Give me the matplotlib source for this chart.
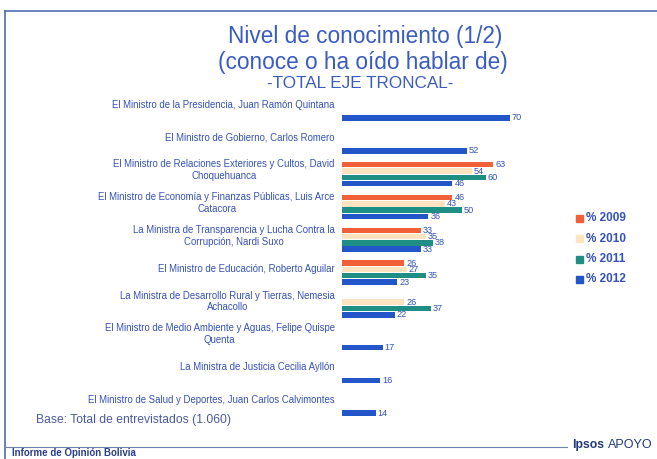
import numpy as np
import matplotlib.pyplot as plt
from matplotlib.patches import Rectangle
from matplotlib.lines import Line2D

# data
ministros = [
    "El Ministro de la Presidencia, Juan Ramón Quintana",
    "El Ministro de Gobierno, Carlos Romero",
    "El Ministro de Relaciones Exteriores y Cultos, David\nChoquehuanca",
    "El Ministro de Economía y Finanzas Públicas, Luis Arce\nCatacora",
    "La Ministra de Transparencia y Lucha Contra la\nCorrupción, Nardi Suxo",
    "El Ministro de Educación, Roberto Aguilar",
    "La Ministra de Desarrollo Rural y Tierras, Nemesia\nAchacollo",
    "El Ministro de Medio Ambiente y Aguas, Felipe Quispe\nQuenta",
    "La Ministra de Justicia Cecilia Ayllón",
    "El Ministro de Salud y Deportes, Juan Carlos Calvimontes",
]
nan = np.nan
p2009 = [nan, nan, 63, 46, 33, 26, nan, nan, nan, nan]
p2010 = [nan, nan, 54, 43, 35, 27, 26, nan, nan, nan]
p2011 = [nan, nan, 60, 50, 38, 35, 37, nan, nan, nan]
p2012 = [70, 52, 46, 36, 33, 23, 22, 17, 16, 14]
series = [p2009, p2010, p2011, p2012]
anios = ["% 2009", "% 2010", "% 2011", "% 2012"]
colores = ["#f2603a", "#fde3c0", "#1f8f86", "#2356c8"]

azul = "#3552b8"
arial = ["Liberation Sans", "DejaVu Sans"]
narrow = ["Liberation Sans Narrow", "Liberation Sans", "DejaVu Sans"]
plt.rcParams["font.family"] = arial

W, H = 657, 459
fig = plt.figure(figsize=(W / 100, H / 100), dpi=100)

# axes placed in pixel coords (bars start at x=342, 2.4 px per unit)
x0, x1 = 342, 558
y0, y1 = 95, 430
ax = fig.add_axes([x0 / W, 1 - y1 / H, (x1 - x0) / W, (y1 - y0) / H])
ax.set_xlim(0, (x1 - x0) / 2.4)
ax.set_ylim(9.80, -0.413)
ax.axis("off")

slot = 0.192
alto = 0.165
g = np.arange(len(ministros))
for s, (vals, col) in enumerate(zip(series, colores)):
    vals = np.array(vals, dtype=float)
    ypos = g + (s - 1.5) * slot
    ok = ~np.isnan(vals)
    ax.barh(ypos[ok], vals[ok], height=alto, color=col, edgecolor="none")
    for y, v in zip(ypos[ok], vals[ok]):
        ax.text(v + 0.8, y, f"{v:.0f}", fontsize=6.6, color=azul,
                va="center", ha="left", family=narrow)

for i, nombre in enumerate(ministros):
    ax.text(-3, i - 0.12, nombre, fontsize=6.9, color=azul, ha="right",
            va="center", multialignment="center", family=narrow)

# legend
for k, (lab, col) in enumerate(zip(anios, colores)):
    yy = 1 - (218 + k * 20.5) / H
    fig.patches.append(Rectangle((576 / W, yy - 3.5 / H), 7 / W, 7 / H,
                                 transform=fig.transFigure, color=col))
    fig.text(586 / W, yy, lab, fontsize=8.5, color=azul, fontweight="bold",
             va="center", ha="left", family=narrow)

# titles
fig.text(365 / W, 1 - 37 / H, "Nivel de conocimiento (1/2)", fontsize=16.3,
         color="#3a5cc0", ha="center", va="center")
fig.text(363 / W, 1 - 62 / H, "(conoce o ha oído hablar de)", fontsize=16.3,
         color="#3a5cc0", ha="center", va="center")
fig.text(360 / W, 1 - 84 / H, "-TOTAL EJE TRONCAL-", fontsize=12.3,
         color="#3a5cc0", ha="center", va="center")

fig.text(36 / W, 1 - 420 / H, "Base: Total de entrevistados (1.060)",
         fontsize=8.7, color="#4a5aa0", ha="left", va="center")

# frame and footer
fig.lines.append(Line2D([5 / W, 1], [1 - 11 / H, 1 - 11 / H],
                        transform=fig.transFigure, color="#5070b0", lw=1.2))
fig.lines.append(Line2D([5 / W, 5 / W], [1 - 11 / H, 0],
                        transform=fig.transFigure, color="#5070b0", lw=1.2))
fig.lines.append(Line2D([5 / W, 567 / W], [1 - 447 / H, 1 - 447 / H],
                        transform=fig.transFigure, color="#7080b0", lw=0.8))
fig.text(12 / W, 1 - 453 / H, "Informe de Opinión Bolivia", fontsize=7,
         color="#2a3f8a", fontweight="bold", ha="left", va="center")
fig.text(572 / W, 1 - 445 / H, "Ipsos", fontsize=8.8, color="#1f3a78",
         fontweight="bold", ha="left", va="center")
fig.text(608 / W, 1 - 445 / H, "APOYO", fontsize=9, color="#1f3a78",
         ha="left", va="center")

fig.savefig("out.png", dpi=100, facecolor="white")
